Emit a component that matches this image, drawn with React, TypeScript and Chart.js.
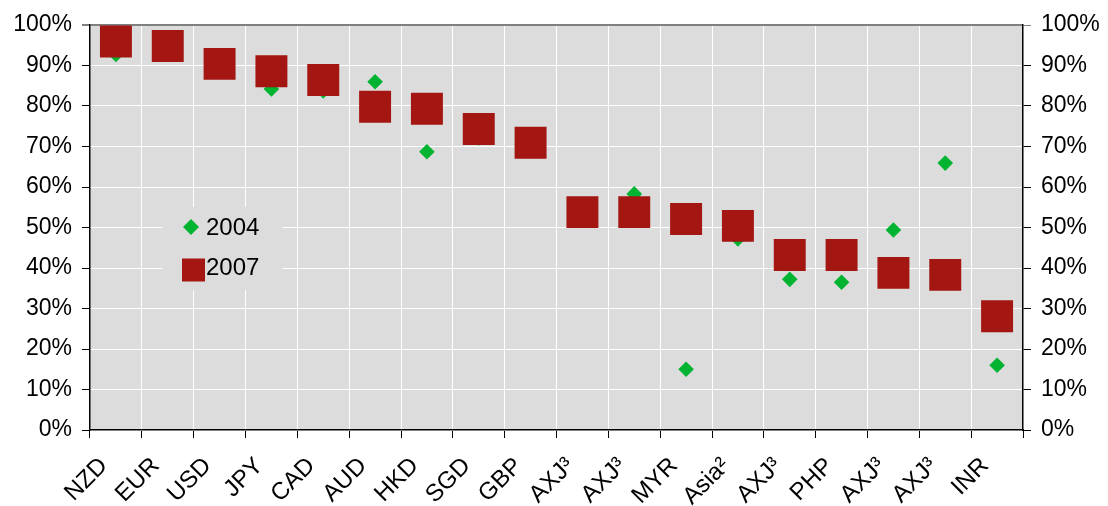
import React, { useEffect, useRef } from "react";
import { Chart, registerables } from "chart.js";

Chart.register(...registerables);

const categories = [
  "NZD", "EUR", "USD", "JPY", "CAD", "AUD", "HKD", "SGD", "GBP",
  "AXJ³", "AXJ³", "MYR", "Asia²", "AXJ³", "PHP", "AXJ³", "AXJ³", "INR",
];
const values2004 = [92.7, 95, 90, 84.2, 83.7, 86.0, 68.7, 72.1, 71, 54, 58.3, 15.0, 47.2, 37.2, 36.5, 49.4, 65.9, 16.0];
const values2007 = [95.9, 94.8, 90.4, 88.6, 86.4, 79.8, 79.3, 74.3, 70.9, 53.8, 53.8, 52.1, 50.4, 43.2, 43.2, 38.8, 38.3, 28.1];
const yTicks = [0, 10, 20, 30, 40, 50, 60, 70, 80, 90, 100];

const GREEN = "#00b330";
const RED = "#a31611";
const BG = "#dcdcdc";
const FONT = "Liberation Sans, Arial, sans-serif";

const bgPlugin = {
  id: "bgPlugin",
  beforeDraw(chart: any) {
    const { ctx, chartArea } = chart;
    ctx.save();
    ctx.fillStyle = BG;
    ctx.fillRect(chartArea.left, chartArea.top, chartArea.right - chartArea.left, chartArea.bottom - chartArea.top);
    ctx.restore();
  },
};

const legendPlugin = {
  id: "insideLegend",
  beforeDatasetsDraw(chart: any) {
    const { ctx, chartArea } = chart;
    const bx = chartArea.left + 72;
    const by = chartArea.top + 182;
    ctx.save();
    ctx.fillStyle = BG;
    ctx.fillRect(bx, by, 120, 83);
    const ds = chart.data.datasets;
    ctx.font = `24px ${FONT}`;
    ctx.textBaseline = "middle";
    ctx.textAlign = "left";
    // item 1: diamond
    const cx1 = bx + 29, cy1 = by + 20;
    ctx.fillStyle = ds[0].backgroundColor;
    ctx.beginPath();
    ctx.moveTo(cx1 - 8, cy1);
    ctx.lineTo(cx1, cy1 - 8);
    ctx.lineTo(cx1 + 8, cy1);
    ctx.lineTo(cx1, cy1 + 8);
    ctx.closePath();
    ctx.fill();
    ctx.fillStyle = "#000";
    ctx.fillText(ds[0].label, bx + 44, cy1 + 1);
    // item 2: square
    const cx2 = bx + 31.5, cy2 = by + 63;
    ctx.fillStyle = ds[1].backgroundColor;
    ctx.fillRect(cx2 - 11.5, cy2 - 11.5, 23, 23);
    ctx.fillStyle = "#000";
    ctx.fillText(ds[1].label, bx + 44, cy2 - 2);
    ctx.restore();
  },
};

export default function App() {
  const ref = useRef<HTMLCanvasElement>(null);
  useEffect(() => {
    document.body.style.margin = "0";
    const canvas = ref.current!;
    const gridColor = (c: any) => (c.tick && c.tick.value === 100 ? "#808080" : "#ffffff");
    const gridWidth = (c: any) => (c.tick && c.tick.value === 100 ? 2 : 1);
    const tickCol = (c: any) => (c.tick && c.tick.value === 100 ? "#808080" : "#000000");
    const yCommon = {
      min: 0,
      max: 100,
      afterBuildTicks: (s: any) => {
        s.ticks = yTicks.map((v) => ({ value: v }));
      },
      ticks: {
        callback: (v: any) => v + "%",
        font: { size: 23, family: FONT },
        color: "#000",
        padding: 10,
      },
      border: { color: "#000", width: 1.5 },
    };
    const chart = new Chart(canvas, {
      type: "line",
      data: {
        labels: categories,
        datasets: [
          {
            label: "2004",
            data: values2004,
            showLine: false,
            pointStyle: "rectRot",
            pointRadius: 7.8,
            pointHoverRadius: 7.8,
            pointBorderWidth: 0,
            backgroundColor: GREEN,
            borderColor: GREEN,
            order: 2,
          },
          {
            label: "2007",
            data: values2007,
            showLine: false,
            pointStyle: "rect",
            pointRadius: 22.6,
            pointHoverRadius: 22.6,
            pointBorderWidth: 0,
            backgroundColor: RED,
            borderColor: RED,
            order: 1,
          },
        ],
      },
      options: {
        animation: false,
        responsive: false,
        devicePixelRatio: 1,
        layout: { padding: { top: 25, left: 0, right: 0, bottom: 0 } },
        plugins: { legend: { display: false }, tooltip: { enabled: false } },
        scales: {
          x: {
            type: "category",
            offset: true,
            grid: { offset: true, color: "#ffffff", lineWidth: 1, tickColor: "#000", tickLength: 8 },
            border: { color: "#000", width: 1.5 },
            ticks: {
              autoSkip: false,
              maxRotation: 45,
              minRotation: 45,
              font: { size: 24, family: FONT },
              color: "#000",
              padding: 14,
              labelOffset: -12,
            },
            afterFit: (s: any) => {
              s.height = 76;
            },
          },
          y: {
            ...yCommon,
            position: "left",
            grid: { color: gridColor, lineWidth: gridWidth, tickColor: tickCol, tickLength: 8 },
            afterFit: (s: any) => {
              s.width = 90;
            },
          },
          y2: {
            ...yCommon,
            display: true,
            position: "right",
            grid: { drawOnChartArea: false, color: gridColor, tickColor: tickCol, tickLength: 8 },
            afterFit: (s: any) => {
              s.width = 85;
            },
          },
        },
      } as any,
      plugins: [bgPlugin, legendPlugin],
    });
    return () => chart.destroy();
  }, []);
  return (
    <div style={{ position: "absolute", left: 0, top: 0, width: 1108, height: 506 }}>
      <canvas ref={ref} width={1108} height={506} style={{ width: 1108, height: 506, display: "block" }} />
    </div>
  );
}
